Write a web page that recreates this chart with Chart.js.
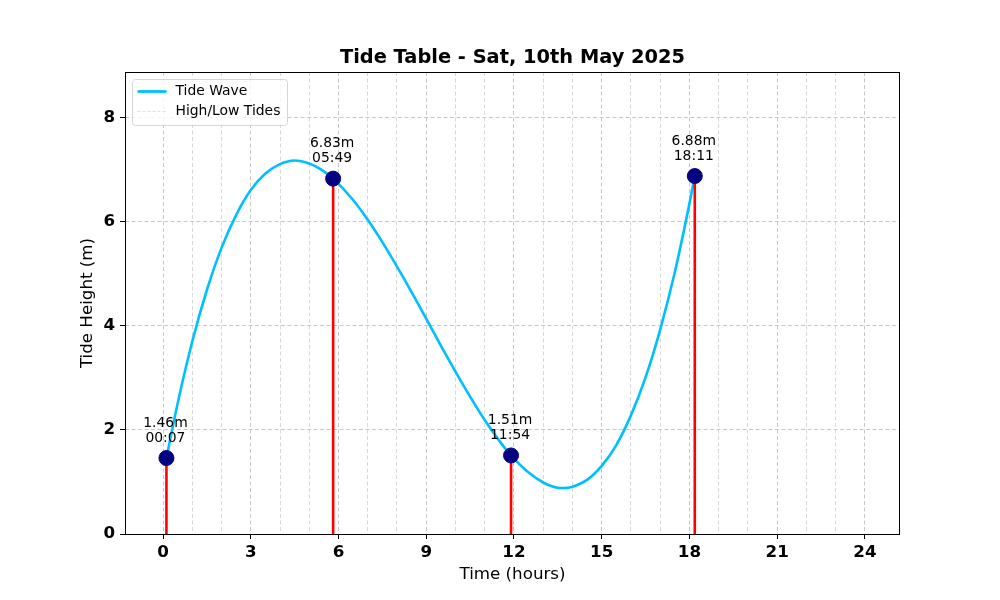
<!DOCTYPE html>
<html>
<head>
<meta charset="utf-8">
<script src="https://cdn.jsdelivr.net/npm/chart.js@4"></script>
<style>
  body { margin: 0; background: #fff; }
</style>
</head>
<body>
<canvas id="tide" width="1000" height="600"></canvas>
<script>
// curve samples (hours / metres)
const waveHours   = [0.117, 0.5, 1, 1.5, 2, 2.5, 3, 3.5, 4, 4.5, 5, 5.5, 5.817, 6.5, 7, 7.5, 8, 8.5, 9, 9.5, 10, 10.5, 11, 11.5, 11.9, 12.5, 13, 13.5, 13.7, 14, 14.5, 15, 15.5, 16, 16.5, 17, 17.5, 18, 18.183];
const waveHeights = [1.46, 2.51, 3.70, 4.69, 5.50, 6.13, 6.61, 6.93, 7.11, 7.18, 7.12, 6.97, 6.83, 6.42, 6.04, 5.61, 5.14, 4.65, 4.14, 3.62, 3.12, 2.64, 2.19, 1.79, 1.51, 1.18, 0.99, 0.89, 0.885, 0.91, 1.04, 1.31, 1.71, 2.28, 3.01, 3.93, 5.03, 6.35, 6.88];

// high / low tides
const tideHours   = [0.117, 5.817, 11.9, 18.183];
const tideHeights = [1.46, 6.83, 1.51, 6.88];
const tideTimes   = ['00:07', '05:49', '11:54', '18:11'];

// ticks
const majorHours = [0, 3, 6, 9, 12, 15, 18, 21, 24];
const minorHours = [0, 1, 2, 3, 4, 5, 6, 7, 8, 9, 10, 11, 12, 13, 14, 15, 16, 17, 18, 19, 20, 21, 22, 23, 24];
const heightTicks = [0, 2, 4, 6, 8];

const FONT = '"DejaVu Sans", sans-serif';

const decor = {
    id: 'decor',
    afterDatasetsDraw(chart) {
        const { ctx, chartArea: a, scales: { x, y } } = chart;
        ctx.save();

        // axes frame
        ctx.strokeStyle = '#000';
        ctx.lineWidth = 1;
        ctx.setLineDash([]);
        ctx.strokeRect(a.left + 0.5, a.top + 0.5, a.right - a.left - 1, a.bottom - a.top);

        // labels above the tide points
        ctx.fillStyle = '#000';
        ctx.font = '13.9px ' + FONT;
        ctx.textAlign = 'center';
        ctx.textBaseline = 'middle';
        tideHours.forEach((t, i) => {
            const px = x.getPixelForValue(t);
            const py = y.getPixelForValue(tideHeights[i]);
            ctx.fillText(tideHeights[i].toFixed(2) + 'm', px - 1, py - 35);
            ctx.fillText(tideTimes[i], px - 1, py - 20);
        });

        // legend box
        const lx = a.left + 7.5, ly = a.top + 7.5, lw = 155, lh = 46;
        ctx.beginPath();
        ctx.roundRect(lx, ly, lw, lh, 3);
        ctx.fillStyle = 'rgba(255,255,255,0.8)';
        ctx.fill();
        ctx.strokeStyle = '#d6d6d6';
        ctx.lineWidth = 1;
        ctx.stroke();

        ctx.strokeStyle = '#00bfff';
        ctx.lineWidth = 2.8;
        ctx.beginPath();
        ctx.moveTo(lx + 5, ly + 12);
        ctx.lineTo(lx + 34, ly + 12);
        ctx.stroke();

        ctx.strokeStyle = 'rgba(190,190,190,0.6)';
        ctx.lineWidth = 0.8;
        ctx.setLineDash([3, 2]);
        ctx.beginPath();
        ctx.moveTo(lx + 5, ly + 32);
        ctx.lineTo(lx + 34, ly + 32);
        ctx.stroke();
        ctx.setLineDash([]);

        ctx.fillStyle = '#000';
        ctx.textAlign = 'left';
        ctx.fillText('Tide Wave', lx + 43, ly + 12);
        ctx.fillText('High/Low Tides', lx + 43, ly + 32);

        // title and axis titles
        const cx = (a.left + a.right) / 2;
        ctx.textAlign = 'center';
        ctx.font = 'bold 19.4px ' + FONT;
        ctx.fillText('Tide Table - Sat, 10th May 2025', cx, 58);

        ctx.font = '16.7px ' + FONT;
        ctx.fillText('Time (hours)', cx, 575);

        ctx.translate(88, (a.top + a.bottom) / 2);
        ctx.rotate(-Math.PI / 2);
        ctx.fillText('Tide Height (m)', 0, 0);

        ctx.restore();
    }
};

const stemSets = tideHours.map((t, i) => ({
    data: [{ x: t, y: 0 }, { x: t, y: tideHeights[i] }],
    showLine: true,
    borderColor: '#ff0000',
    borderWidth: 2.6,
    pointRadius: 0
}));

new Chart(document.getElementById('tide'), {
    type: 'scatter',
    data: {
        datasets: [
            {
                label: 'points',
                data: tideHours.map((t, i) => ({ x: t, y: tideHeights[i] })),
                backgroundColor: '#000080',
                borderColor: '#000080',
                pointRadius: 7.5,
                pointHoverRadius: 7.5
            },
            ...stemSets,
            {
                label: 'Tide Wave',
                data: waveHours.map((t, i) => ({ x: t, y: waveHeights[i] })),
                showLine: true,
                borderColor: '#00bfff',
                borderWidth: 2.6,
                pointRadius: 0,
                cubicInterpolationMode: 'monotone'
            }
        ]
    },
    options: {
        responsive: false,
        animation: false,
        layout: { padding: { left: 0, right: 100, top: 72, bottom: 0 } },
        plugins: {
            legend: { display: false },
            tooltip: { enabled: false },
            title: { display: false }
        },
        scales: {
            x: {
                type: 'linear',
                min: -1.3,
                max: 25.2,
                afterBuildTicks: s => { s.ticks = minorHours.map(v => ({ value: v })); },
                afterFit: s => { s.height = 66; },
                ticks: {
                    autoSkip: false,
                    maxRotation: 0,
                    padding: 4,
                    color: '#000',
                    font: { family: FONT, size: 16.7, weight: 'bold' },
                    callback: v => majorHours.includes(v) ? String(v) : ''
                },
                grid: {
                    color: c => majorHours.includes(c.tick && c.tick.value) ? '#c8c8c8' : '#d8d8d8',
                    lineWidth: 1,
                    tickColor: c => majorHours.includes(c.tick && c.tick.value) ? '#000' : 'rgba(0,0,0,0)',
                    tickLength: 5,
                    tickWidth: 1,
                    tickBorderDash: []
                },
                border: { display: false, dash: [4, 2.5] }
            },
            y: {
                min: 0,
                max: 8.88,
                afterBuildTicks: s => { s.ticks = heightTicks.map(v => ({ value: v })); },
                afterFit: s => { s.width = 125; },
                ticks: {
                    padding: 5,
                    color: '#000',
                    font: { family: FONT, size: 16.7, weight: 'bold' }
                },
                grid: {
                    color: '#c8c8c8',
                    lineWidth: 1,
                    tickColor: '#000',
                    tickLength: 5,
                    tickWidth: 1,
                    tickBorderDash: []
                },
                border: { display: false, dash: [4, 2.5] }
            }
        }
    },
    plugins: [decor]
});
</script>
</body>
</html>
